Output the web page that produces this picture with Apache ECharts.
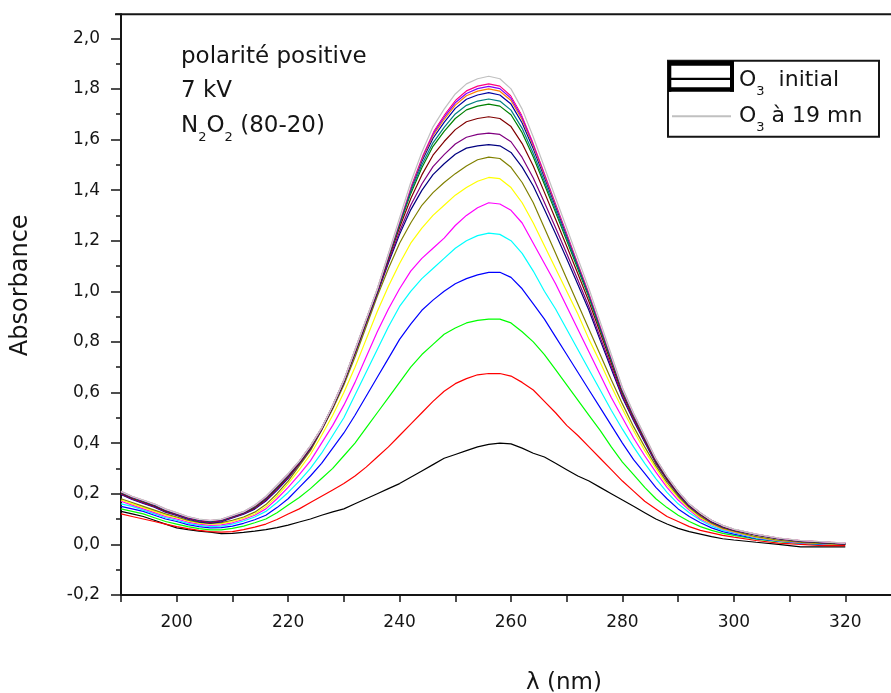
<!DOCTYPE html>
<html><head><meta charset="utf-8">
<script src="https://cdn.jsdelivr.net/npm/echarts@6/dist/echarts.min.js"></script>
<style>html,body{margin:0;padding:0;background:#fff}#chart{width:891px;height:693px}</style>
</head><body><div id="chart"></div>
<script>
const wavelength = [190,192,194,196,198,200,202,204,206,208,210,212,214,216,218,220,222,224,226,228,230,232,234,236,238,240,242,244,246,248,250,252,254,256,258,260,262,264,266,268,270,272,274,276,278,280,282,284,286,288,290,292,294,296,298,300,304,308,312,316,320];

const black = [.13,.12,.11,.095,.08,.065,.058,.052,.048,.042, .043,.047,.052,.058,.066,.076,.088,.10,.115,.128, .14,.16,.18,.20,.22,.24,.265,.29,.315,.34, .355,.37,.385,.395,.40,.397,.38,.36,.345,.32, .295,.27,.25,.225,.20,.175,.15,.125,.10,.08, .063,.05,.04,.03,.022,.017, .008,0,-.01,-.01,-.01];
const red = [.12,.11,.10,.09,.08,.07,.062,.055,.05,.048, .05,.058,.068,.08,.098,.12,.14,.165,.19,.215, .24,.27,.305,.345,.385,.43,.475,.52,.565,.605, .635,.655,.67,.675,.675,.665,.64,.61,.565,.52, .47,.43,.385,.34,.295,.25,.21,.17,.14,.11, .09,.07,.055,.045,.035,.028, .015,.005,0,-.005,-.005];
const green = [.14,.13,.12,.105,.09,.08,.07,.062,.057,.057, .063,.072,.085,.10,.125,.155,.185,.22,.26,.30, .35,.40,.46,.52,.58,.64,.70,.75,.79,.83, .855,.875,.885,.89,.89,.875,.84,.80,.75,.69, .63,.57,.51,.45,.385,.325,.275,.225,.18,.145, .115,.09,.07,.055,.043,.035, .02,.01,.005,0,0];
const blue = [.15,.14,.13,.115,.10,.09,.078,.07,.065,.066, .072,.083,.097,.115,.145,.18,.225,.27,.32,.38, .44,.51,.585,.66,.735,.81,.87,.925,.965,1.00, 1.03,1.05,1.065,1.075,1.075,1.055,1.01,.95,.89,.82, .75,.68,.61,.54,.47,.40,.335,.28,.225,.18, .14,.11,.085,.065,.05,.04, .022,.012,.005,0,0];
const cyan = [.16,.15,.135,.12,.105,.095,.083,.075,.07,.072, .08,.092,.108,.13,.165,.205,.25,.30,.36,.43, .50,.59,.68,.77,.86,.94,1.00,1.05,1.09,1.13, 1.17,1.20,1.22,1.23,1.225,1.20,1.15,1.08,1.00,.93, .85,.77,.69,.61,.53,.455,.385,.32,.26,.205, .16,.125,.095,.072,.055,.045, .025,.013,.006,.002,0];
const magenta = [.17,.155,.14,.125,.11,.10,.088,.08,.075,.077, .085,.098,.115,.14,.18,.225,.275,.33,.40,.47, .55,.64,.74,.84,.93,1.01,1.08,1.13,1.17,1.21, 1.26,1.30,1.33,1.35,1.345,1.32,1.27,1.19,1.11,1.03, .94,.85,.76,.67,.58,.50,.42,.35,.285,.225, .175,.135,.10,.078,.06,.048, .027,.014,.007,.003,0];
const yellow = [.175,.16,.145,.13,.115,.105,.092,.084,.08,.082, .09,.103,.12,.148,.19,.24,.295,.355,.43,.51, .60,.70,.81,.92,1.02,1.11,1.19,1.25,1.30,1.34, 1.38,1.41,1.435,1.45,1.445,1.41,1.35,1.27,1.18,1.09, 1.00,.91,.81,.72,.625,.535,.45,.37,.30,.235, .185,.14,.105,.08,.062,.05, .028,.015,.008,.003,0];
const darkYellow = [.18,.165,.15,.135,.12,.108,.095,.087,.083,.086, .095,.108,.127,.157,.20,.25,.31,.37,.45,.535, .63,.74,.86,.98,1.09,1.19,1.27,1.34,1.39,1.43, 1.465,1.495,1.52,1.53,1.525,1.49,1.43,1.35,1.25,1.15, 1.05,.95,.85,.75,.65,.555,.465,.385,.31,.245, .19,.145,.11,.083,.064,.052, .03,.016,.008,.004,0];
const navy = [.197,.177,.162,.147,.127,.114,.099,.089,.084,.089, .104,.119,.139,.171,.213,.261,.317,.377,.453,.542, .639,.754,.874,.991,1.112,1.225,1.322,1.399,1.461,1.504, 1.542,1.566,1.575,1.58,1.575,1.549,1.491,1.416,1.323,1.227, 1.129,1.027,.924,.807,.693,.58,.488,.403,.32,.254, .197,.149,.116,.087,.068,.055, .036,.021,.011,.006,.001];
const purple = [.199,.179,.164,.149,.129,.116,.101,.091,.086,.091, .106,.121,.142,.174,.217,.264,.319,.379,.454,.543, .641,.757,.877,.994,1.119,1.236,1.34,1.424,1.493,1.54, 1.582,1.609,1.62,1.625,1.62,1.591,1.529,1.448,1.351,1.251, 1.149,1.045,.938,.819,.703,.586,.493,.408,.323,.257, .199,.151,.117,.088,.069,.056, .037,.022,.012,.007,.002];
const wine = [.202,.182,.167,.152,.132,.119,.104,.094,.089,.094, .109,.124,.145,.179,.222,.269,.322,.382,.456,.545, .644,.760,.880,.999,1.128,1.252,1.366,1.46,1.538,1.592, 1.639,1.67,1.683,1.69,1.683,1.651,1.584,1.495,1.391,1.285, 1.178,1.069,.959,.837,.716,.596,.501,.414,.328,.26, .202,.154,.119,.09,.071,.057, .038,.023,.013,.008,.003];
const olive = [.205,.185,.170,.155,.135,.121,.106,.096,.091,.096, .111,.126,.148,.182,.226,.272,.325,.385,.457,.547, .646,.763,.883,1.002,1.135,1.264,1.386,1.488,1.573,1.632, 1.683,1.717,1.732,1.74,1.732,1.698,1.627,1.531,1.422,1.312, 1.201,1.088,.975,.85,.727,.604,.507,.419,.332,.263, .205,.156,.121,.092,.072,.058, .038,.023,.013,.008,.003];
const darkCyan = [.206,.186,.171,.156,.136,.121,.106,.096,.091,.096, .111,.126,.150,.184,.228,.274,.326,.386,.458,.547, .646,.765,.885,1.004,1.137,1.268,1.394,1.5,1.587,1.648, 1.701,1.735,1.752,1.76,1.752,1.716,1.644,1.545,1.434,1.322, 1.21,1.096,.981,.856,.731,.607,.509,.421,.333,.265, .206,.156,.122,.092,.073,.058, .039,.024,.014,.009,.004];
const royal = [.207,.187,.172,.157,.137,.122,.107,.097,.092,.097, .112,.127,.151,.185,.230,.275,.327,.387,.458,.548, .647,.766,.886,1.005,1.141,1.274,1.404,1.514,1.605,1.668, 1.723,1.759,1.776,1.785,1.776,1.74,1.665,1.563,1.45,1.336, 1.221,1.105,.989,.862,.736,.61,.512,.424,.335,.266, .207,.157,.123,.093,.073,.059, .039,.024,.014,.009,.004];
const orange = [.208,.188,.173,.158,.138,.123,.108,.098,.093,.098, .113,.128,.152,.187,.231,.277,.328,.388,.459,.549, .648,.767,.887,1.007,1.143,1.278,1.41,1.522,1.615,1.68, 1.736,1.773,1.791,1.80,1.791,1.754,1.678,1.574,1.459,1.344, 1.228,1.111,.994,.867,.74,.613,.514,.425,.336,.267, .208,.158,.123,.094,.074,.059, .039,.024,.014,.009,.004];
const violet = [.208,.188,.173,.158,.138,.123,.108,.098,.093,.098, .113,.128,.153,.187,.232,.277,.328,.388,.459,.549, .648,.768,.888,1.007,1.144,1.28,1.414,1.528,1.622,1.688, 1.745,1.782,1.801,1.81,1.801,1.763,1.686,1.581,1.465,1.349, 1.232,1.115,.997,.869,.742,.614,.515,.426,.337,.268, .208,.158,.124,.094,.074,.059, .039,.024,.014,.009,.004];
const pink = [.209,.189,.174,.159,.139,.124,.109,.099,.094,.099, .114,.129,.153,.188,.233,.278,.329,.389,.459,.549, .649,.768,.888,1.008,1.146,1.283,1.418,1.533,1.629,1.696, 1.754,1.792,1.811,1.82,1.811,1.772,1.695,1.588,1.471,1.354, 1.237,1.119,1.0,.872,.744,.616,.516,.427,.338,.268, .209,.159,.124,.094,.074,.059, .04,.025,.015,.01,.005];
const white = [.209,.189,.174,.159,.139,.124,.109,.099,.094,.099, .114,.129,.154,.189,.233,.279,.329,.389,.46,.549, .649,.769,.889,1.009,1.147,1.285,1.422,1.539,1.636,1.704, 1.762,1.801,1.82,1.83,1.82,1.781,1.703,1.596,1.478,1.359, 1.241,1.122,1.004,.875,.746,.617,.518,.428,.339,.269, .209,.159,.124,.094,.074,.06, .04,.025,.015,.01,.005];
const lightGray = [.21,.19,.175,.16,.14,.125,.11,.10,.095,.10, .115,.13,.155,.19,.235,.28,.33,.39,.46,.55, .65,.77,.89,1.01,1.15,1.29,1.43,1.55,1.65,1.72, 1.78,1.82,1.84,1.85,1.84,1.80,1.72,1.61,1.49,1.37, 1.25,1.13,1.01,.88,.75,.62,.52,.43,.34,.27, .21,.16,.125,.095,.075,.06, .04,.025,.015,.01,.005];

const seriesNames = ['O3 initial','t2','t3','t4','t5','t6','t7','t8','t9','t10','t11','t12','t13','t14','t15','t16','t17','t18','O3 à 19 mn'];
const seriesValues = [black,red,green,blue,cyan,magenta,yellow,darkYellow,navy,purple,wine,olive,darkCyan,royal,orange,violet,pink,white,lightGray];
const seriesColors = ['#000000','#FF0000','#00FF00','#0000FF','#00FFFF','#FF00FF','#FFFF00','#808000','#000080','#800080','#800000','#008000','#008080','#0000A0','#FF8000','#8000FF','#FF0080','#FFFFFF','#C0C0C0'];
const xTickLabels = [200,220,240,260,280,300,320];
const annotationLines = ['polarité positive','7 kV','N{s|2}O{s|2} (80-20)'];
const legendLabels = ['O{s|3}  initial','O{s|3} à 19 mn'];

const FONT = 'DejaVu Sans';
const INK = '#151515';
const subStyle = {fontSize:13, fontFamily:FONT, fill:INK, lineHeight:14, padding:[24,0,0,0]};

const chart = echarts.init(document.getElementById('chart'), null, {renderer:'canvas'});
chart.setOption({
  animation:false,
  backgroundColor:'#ffffff',
  grid:{left:121,right:-10,top:-12.3,bottom:98.1,containLabel:false,outerBoundsMode:'none'},
  xAxis:{
    type:'value',min:190,max:330,interval:10,
    axisLine:{show:true,onZero:false,lineStyle:{color:INK,width:2}},
    axisTick:{show:true,inside:false,length:7,lineStyle:{color:INK,width:1.5}},
    axisLabel:{margin:19,fontSize:17,fontFamily:FONT,color:INK,
      formatter:v=>xTickLabels.indexOf(Math.round(v))>=0&&Math.abs(v-Math.round(v))<1e-6?String(Math.round(v)):''},
    splitLine:{show:false},
    name:'λ (nm)',nameLocation:'middle',nameGap:77,
    nameTextStyle:{fontSize:23,fontFamily:FONT,color:INK,padding:[0,0,0,106]}
  },
  yAxis:{
    type:'value',min:-0.2,max:2.2,interval:0.2,
    axisLine:{show:true,onZero:false,lineStyle:{color:INK,width:2}},
    axisTick:{show:true,inside:false,length:10,lineStyle:{color:INK,width:1.5}},
    minorTick:{show:true,splitNumber:2,length:5,lineStyle:{color:INK,width:1.5}},
    axisLabel:{margin:21,fontSize:17,fontFamily:FONT,color:INK,
      formatter:v=>{const k=Math.round(v*10);if(Math.abs(v*10-k)>1e-6||k>20)return '';return (k/10).toFixed(1).replace('.',',');}},
    splitLine:{show:false},minorSplitLine:{show:false},
    name:'Absorbance',nameLocation:'middle',nameRotate:90,nameGap:88,
    nameTextStyle:{fontSize:24,fontFamily:FONT,color:INK,padding:[0,0,0,12]}
  },
  series:seriesValues.map((vals,i)=>({
    type:'line',name:seriesNames[i],
    data:wavelength.map((w,j)=>[w,vals[j]]),
    symbol:'none',showSymbol:false,silent:true,clip:true,
    lineStyle:{color:seriesColors[i],width:1.2},
    itemStyle:{color:seriesColors[i]}
  })),
  graphic:[
    {type:'rect',shape:{x:100,y:0,width:30,height:13.3},style:{fill:'#ffffff'},z:9},
    {type:'line',shape:{x1:115,y1:14.3,x2:891,y2:14.3},style:{stroke:INK,lineWidth:2},z:10},
    {type:'text',x:181,y:57,z:10,style:{text:annotationLines[0],fontSize:23,fontFamily:FONT,fill:INK,verticalAlign:'middle'}},
    {type:'text',x:181,y:91,z:10,style:{text:annotationLines[1],fontSize:23,fontFamily:FONT,fill:INK,verticalAlign:'middle'}},
    {type:'text',x:181,y:126,z:10,style:{text:annotationLines[2],fontSize:23,fontFamily:FONT,fill:INK,verticalAlign:'middle',rich:{s:subStyle}}},
    {type:'rect',shape:{x:668,y:60.7,width:211,height:76},style:{fill:'#fff',stroke:INK,lineWidth:2},z:10},
    {type:'rect',shape:{x:668,y:61,width:66,height:4.7},style:{fill:'#000'},z:11},
    {type:'rect',shape:{x:668,y:77.7,width:66,height:2.3},style:{fill:'#000'},z:11},
    {type:'rect',shape:{x:668,y:87.3,width:66,height:4.4},style:{fill:'#000'},z:11},
    {type:'rect',shape:{x:668,y:61,width:3.3,height:30.7},style:{fill:'#000'},z:11},
    {type:'rect',shape:{x:730,y:61,width:4,height:30.7},style:{fill:'#000'},z:11},
    {type:'line',shape:{x1:672,y1:116.3,x2:731,y2:116.3},style:{stroke:'#C0C0C0',lineWidth:2},z:11},
    {type:'text',x:739,y:80,z:11,style:{text:legendLabels[0],fontSize:22,fontFamily:FONT,fill:INK,verticalAlign:'middle',rich:{s:subStyle}}},
    {type:'text',x:739,y:116,z:11,style:{text:legendLabels[1],fontSize:22,fontFamily:FONT,fill:INK,verticalAlign:'middle',rich:{s:subStyle}}}
  ]
});
</script></body></html>
